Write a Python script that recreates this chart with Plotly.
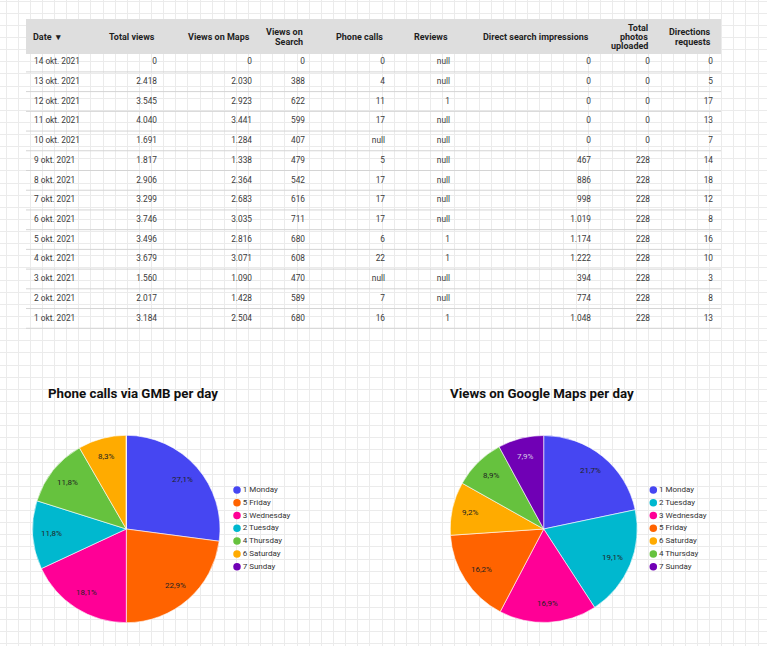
import math
import plotly.graph_objects as go

W, H = 767, 646

# table data (rows as shown, newest first)
dates = ["14 okt. 2021", "13 okt. 2021", "12 okt. 2021", "11 okt. 2021", "10 okt. 2021",
         "9 okt. 2021", "8 okt. 2021", "7 okt. 2021", "6 okt. 2021", "5 okt. 2021",
         "4 okt. 2021", "3 okt. 2021", "2 okt. 2021", "1 okt. 2021"]
total_views = [0, 2418, 3545, 4040, 1691, 1817, 2906, 3299, 3746, 3496, 3679, 1560, 2017, 3184]
views_maps = [0, 2030, 2923, 3441, 1284, 1338, 2364, 2683, 3035, 2816, 3071, 1090, 1428, 2504]
views_search = [0, 388, 622, 599, 407, 479, 542, 616, 711, 680, 608, 470, 589, 680]
phone_calls = [0, 4, 11, 17, None, 5, 17, 17, 17, 6, 22, None, 7, 16]
reviews = [None, None, 1, None, None, None, None, None, None, 1, 1, None, None, 1]
direct_impressions = [0, 0, 0, 0, 0, 467, 886, 998, 1019, 1174, 1222, 394, 774, 1048]
photos_uploaded = [0, 0, 0, 0, 0, 228, 228, 228, 228, 228, 228, 228, 228, 228]
directions = [0, 5, 17, 13, 7, 14, 18, 12, 8, 16, 10, 3, 8, 13]

headers = ["Date  ▾", "Total views", "Views on Maps", "Views on<br>Search", "Phone calls",
           "Reviews", "Direct search impressions", "Total<br>photos<br>uploaded",
           "Directions<br>requests"]

# pie data
phone_days = ["1 Monday", "5 Friday", "3 Wednesday", "2 Tuesday", "4 Thursday", "6 Saturday", "7 Sunday"]
phone_by_day = [39, 33, 26, 17, 17, 12, 0]
maps_days = ["1 Monday", "2 Tuesday", "3 Wednesday", "5 Friday", "6 Saturday", "4 Thursday", "7 Sunday"]
maps_by_day = [6512, 5739, 5065, 4868, 2766, 2683, 2374]

day_colors = {
    "1 Monday": "#4646f2",
    "2 Tuesday": "#00b8cf",
    "3 Wednesday": "#ff0096",
    "4 Thursday": "#66c23e",
    "5 Friday": "#ff6300",
    "6 Saturday": "#ffab00",
    "7 Sunday": "#7000b5",
}

FONT = "Roboto"


def fmt(v):
    if v is None:
        return "null"
    return f"{v:,}".replace(",", ".")


def px(x0, x1, y0, y1):
    # pixel box -> paper domain
    return dict(x=[x0 / W, x1 / W], y=[1 - y1 / H, 1 - y0 / H])


fig = go.Figure()

# ---- table ----
tbl_left, tbl_right = 26, 721
head_top, head_bottom = 19, 54
first_line, row_h = 71.9, 19.72
colwidths = [74, 65, 95, 53, 80, 65, 141, 59, 63]

# header background
fig.add_shape(type="rect", xref="x", yref="y", layer="between",
              x0=tbl_left, x1=tbl_right, y0=head_top, y1=head_bottom,
              fillcolor="#dedede", line=dict(width=0))

# header labels, one annotation per line so spacing can be tight
edges = [tbl_left]
for w in colwidths:
    edges.append(edges[-1] + w)
head_mid = (head_top + head_bottom) / 2 + 0.5
for i, h in enumerate(headers):
    lines = h.split("<br>")
    for j, ln in enumerate(lines):
        left = i == 0
        fig.add_annotation(
            text="<b>" + ln + "</b>", xref="x", yref="y",
            x=edges[i] + 5 if left else edges[i + 1] - 8,
            y=head_mid + (j - (len(lines) - 1) / 2) * 9.4,
            xanchor="left" if left else "right", yanchor="middle",
            showarrow=False, font=dict(family=FONT, size=9, color="#1e1e1e"))

columns = [dates, total_views, views_maps, views_search, phone_calls, reviews,
           direct_impressions, photos_uploaded, directions]
cell_values = [dates] + [[fmt(v) for v in col] for col in columns[1:]]

hdr_h = 30
tbl_top = first_line - row_h + 9.8 - 12 - hdr_h
fig.add_trace(go.Table(
    domain=px(tbl_left, tbl_right, tbl_top, tbl_top + hdr_h + row_h * len(dates) + 4),
    columnwidth=colwidths,
    header=dict(
        values=[""] * len(headers),
        fill_color="rgba(0,0,0,0)",
        line=dict(color="rgba(0,0,0,0)", width=0),
        height=hdr_h,
    ),
    cells=dict(
        values=cell_values,
        fill_color="rgba(0,0,0,0)",
        line=dict(color="rgba(0,0,0,0)", width=0),
        align=["left"] + ["right"] * 8,
        font=dict(family=FONT, size=8.3, color="#3a3a3a"),
        height=row_h,
    ),
))

# row separators
for k in range(len(dates)):
    y = first_line + k * row_h
    fig.add_shape(type="line", xref="x", yref="y", x0=tbl_left, x1=tbl_right, y0=y, y1=y,
                  line=dict(color="#d4d4d4", width=1))


# ---- pies ----
def add_pie(days, values, cx, cy, r, name):
    fig.add_trace(go.Pie(
        labels=days,
        values=values,
        name=name,
        domain=px(cx - r, cx + r, cy - r, cy + r),
        sort=False,
        direction="clockwise",
        rotation=0,
        marker=dict(colors=[day_colors[d] for d in days], line=dict(color="#ffffff", width=0.6)),
        textinfo="none",
        showlegend=False,
        hoverinfo="label+value+percent",
    ))
    # percentage labels along each slice bisector (annotations sit above the pie layer)
    total = sum(values)
    acc = 0
    for d, v in zip(days, values):
        if v > 0:
            ang = 2 * math.pi * (acc + v / 2) / total
            fig.add_annotation(
                x=cx + 0.8 * r * math.sin(ang), y=cy - 0.8 * r * math.cos(ang),
                xref="x", yref="y", showarrow=False,
                text=f"{100 * v / total:.1f}%".replace(".", ","),
                font=dict(family=FONT, size=8,
                          color="#d8cfe6" if d == "7 Sunday" else "#222222"))
        acc += v


add_pie(phone_days, phone_by_day, 126.3, 529, 93.7, "Phone calls")
add_pie(maps_days, maps_by_day, 543.7, 529, 93.5, "Views on Maps")


# custom legends next to each pie
def add_legend(days, x, y0, step=12.78):
    fig.add_trace(go.Scatter(
        x=[x] * len(days),
        y=[y0 + i * step for i in range(len(days))],
        mode="markers+text",
        marker=dict(size=7.5, color=[day_colors[d] for d in days]),
        text=days,
        textposition="middle right",
        textfont=dict(family=FONT, size=8, color="#333333"),
        hoverinfo="skip",
        showlegend=False,
    ))


add_legend(phone_days, 237, 490)
add_legend(maps_days, 653.3, 490)

# titles
for txt, x in [("Phone calls via GMB per day", 45.5), ("Views on Google Maps per day", 447.5)]:
    fig.add_annotation(text="<b>" + txt + "</b>", x=x, y=393, xref="x", yref="y",
                       xanchor="left", yanchor="middle", showarrow=False,
                       font=dict(family=FONT, size=13.3, color="#111111"))

fig.update_layout(
    width=W,
    height=H,
    margin=dict(l=0, r=0, t=0, b=0),
    paper_bgcolor="#ffffff",
    plot_bgcolor="#ffffff",
    separators=",.",
    font=dict(family=FONT),
    showlegend=False,
    xaxis=dict(range=[0, W], domain=[0, 1], showgrid=True, gridcolor="#ebebeb", gridwidth=1,
               tick0=6, dtick=12.13, zeroline=False, showticklabels=False, ticks="",
               showline=False, fixedrange=True),
    yaxis=dict(range=[H, 0], domain=[0, 1], showgrid=True, gridcolor="#ebebeb", gridwidth=1,
               tick0=1.1, dtick=12.13, zeroline=False, showticklabels=False, ticks="",
               showline=False, fixedrange=True),
)

fig.write_html("out.html", config={"displayModeBar": False},
               post_script="document.body.style.margin='0';")
